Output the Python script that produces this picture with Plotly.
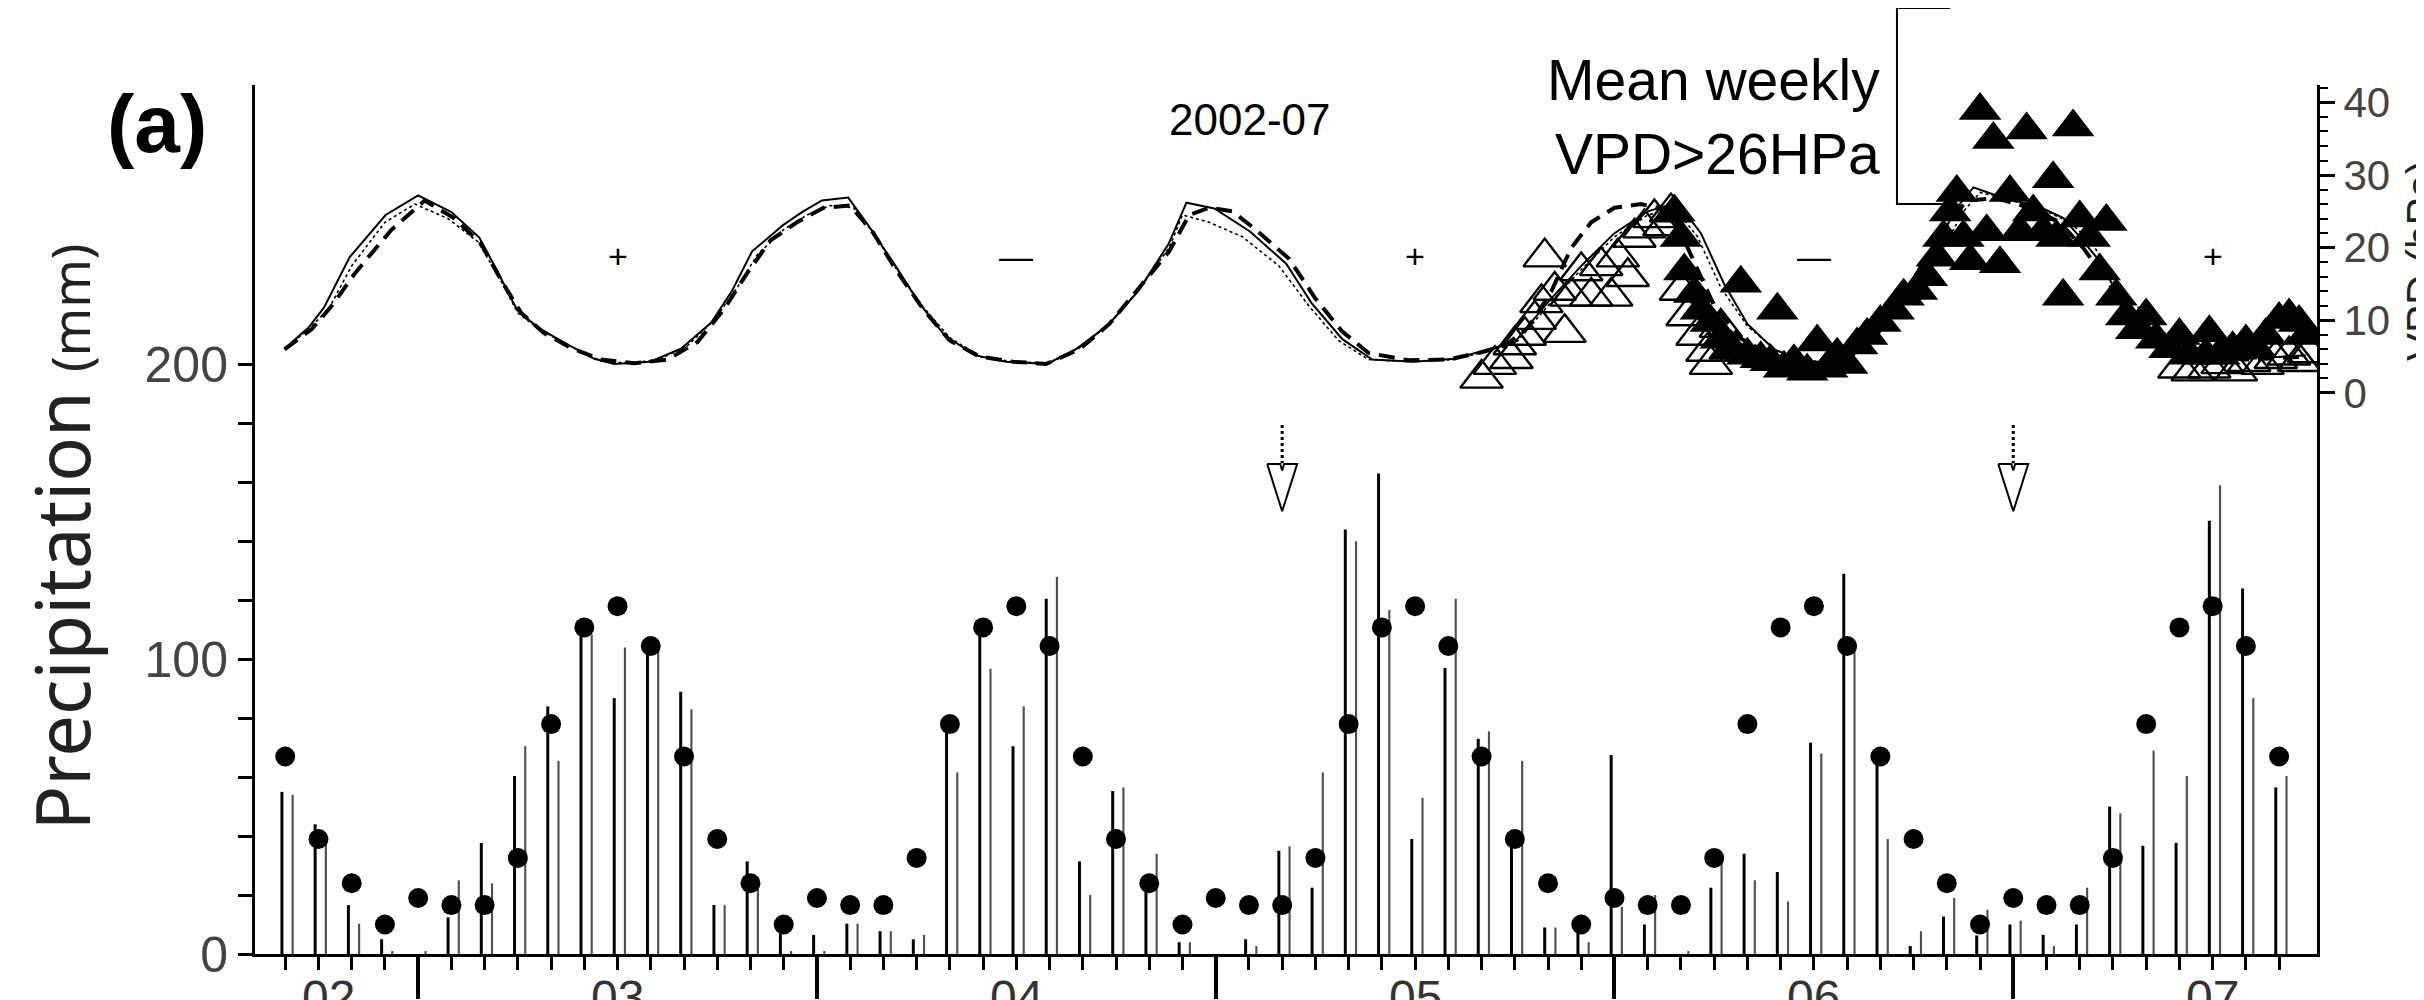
import plotly.graph_objects as go

# ---------------- data ----------------
months = list(range(8, 69))  # month index: 0 = Jan 2002

precip_a = [55, 44, 16.6, 5,
            0, 12.4, 37.7, 60.4, 84, 110.8, 86.8, 106, 89, 16.6, 31.4, 7,
            6.5, 10.3, 7.7, 5, 77.6, 110, 70.5, 120.5, 31.4, 55.3, 24, 4,
            0, 5, 35, 22.5, 144, 163, 39, 97, 73, 37, 9, 8,
            67.5, 10, 0, 22.5, 34, 27.8, 71.7, 129, 68, 2.7, 12.7, 6.3,
            10, 6.5, 10, 50, 36.7, 37.7, 147, 124, 56.5]
precip_b = [54, 38.5, 10.3, 1,
            1, 25, 24, 70.5, 65.5, 108.4, 104, 103.7, 83, 16.6, 26, 1,
            1, 10.3, 7.7, 6.5, 61.6, 96.8, 84, 128, 20, 56.5, 34, 4,
            0, 2.7, 36.5, 61.6, 140, 116.7, 53, 120.5, 75.5, 65.5, 9, 4,
            16, 20, 1, 32, 25, 17.8, 68, 103.7, 39, 7.7, 19, 15,
            11.3, 2.7, 22.5, 47.7, 69, 60.4, 159, 86.8, 60.4]
precip_mean = [67, 39, 24, 10,
               19, 16.6, 16.6, 32.6, 78, 110.8, 118, 104.5, 67, 39, 24, 10,
               19, 16.6, 16.6, 32.6, 78, 110.8, 118, 104.5, 67, 39, 24, 10,
               19, 16.6, 16.6, 32.6, 78, 110.8, 118, 104.5, 67, 39, 24, 10,
               19, 16.6, 16.6, 32.6, 78, 110.8, 118, 104.5, 67, 39, 24, 10,
               19, 16.6, 16.6, 32.6, 78, 110.8, 118, 104.5, 67]

vpd_solid_x = [7.98, 8.7, 9.16, 9.94, 11.02, 12.0, 13.0, 13.84, 14.38, 14.98, 15.61, 16.37,
               17.3, 17.9, 18.98, 19.91, 20.82, 21.45, 22.05, 22.98, 23.55, 24.15, 24.94,
               25.54, 26.32, 27.07, 27.85, 28.75, 29.68, 30.92, 31.82, 32.75, 33.68, 34.58,
               35.12, 35.96, 37.04, 38.12, 38.88, 39.81, 40.71, 41.95, 43.18, 44.11, 45.0,
               46.0, 47.0, 48.0, 49.0, 49.9, 50.6, 51.3, 52.0, 52.8, 53.8, 54.8, 55.6, 56.4,
               57.0, 57.7, 58.3, 58.8, 59.3, 60.0, 60.7, 61.5, 62.0, 62.5, 63.2, 64.2, 65.3,
               66.6, 68.1, 68.8]
vpd_solid = [6.1, 9.0, 11.7, 18.7, 24.5, 27.2, 24.9, 21.4, 16.8, 11.4, 9.0, 7.0,
             4.7, 4.0, 4.3, 6.1, 9.7, 14.1, 19.5, 23.1, 24.9, 26.5, 26.9,
             23.1, 17.8, 12.4, 7.9, 5.2, 4.3, 4.0, 6.1, 9.3, 14.1, 20.5,
             26.2, 25.4, 22.2, 17.8, 12.4, 7.4, 4.6, 4.3, 4.7, 5.9, 7.0,
             12.5, 17.5, 22.0, 25.0, 26.2, 22.0, 15.0, 9.5, 6.0, 4.2, 4.5, 6.5, 12.0,
             16.0, 20.5, 25.5, 28.3, 27.5, 26.5, 25.8, 24.1, 21.5, 18.7, 13.3, 8.7, 6.1,
             4.7, 5.0, 5.2]

vpd_dash_x = [7.98, 8.8, 9.4, 10.1, 11.2, 12.2, 13.1, 13.9, 14.5, 15.1, 15.8, 16.6,
              17.5, 18.5, 19.5, 20.4, 21.2, 21.9, 22.6, 23.4, 24.2, 25.0, 25.7,
              26.4, 27.2, 28.0, 28.9, 29.9, 30.9, 31.9, 32.8, 33.7, 34.6, 35.2,
              35.8, 36.5, 37.2, 38.2, 39.0, 39.8, 40.6, 41.8, 43.0, 44.0, 44.7,
              45.4, 46.1, 46.7, 47.3, 48.0, 48.8, 49.3, 49.8, 50.3, 51.0, 51.8, 52.8,
              54.0, 55.0, 55.8, 56.6, 57.3, 58.0, 58.6, 59.5, 60.5, 61.4, 62.1, 62.8,
              63.6, 64.6, 65.7, 67.0, 68.8]
vpd_dash = [6.0, 8.8, 12.0, 16.5, 22.5, 26.5, 24.0, 20.5, 15.5, 11.0, 8.2, 6.2,
            4.6, 4.1, 4.6, 7.0, 11.5, 16.5, 21.0, 23.5, 25.5, 25.8, 22.0,
            16.8, 11.5, 7.2, 5.0, 4.3, 4.0, 6.0, 9.5, 14.5, 19.5, 24.5,
            25.5, 25.0, 22.5, 18.5, 13.0, 8.5, 5.5, 4.5, 4.6, 5.6, 6.5,
            9.0, 14.0, 20.0, 23.5, 25.5, 26.0, 25.5, 24.0, 19.0, 12.0, 7.5, 5.0,
            4.2, 4.8, 7.5, 12.5, 18.0, 23.0, 26.5, 26.8, 25.5, 23.5, 20.0, 15.5,
            10.5, 7.0, 5.2, 4.6, 5.0]

vpd_dot_x = [7.98, 8.7, 9.3, 10.0, 11.0, 11.9, 12.9, 13.8, 14.4, 15.0, 15.7, 16.5,
             17.4, 18.2, 19.2, 20.1, 20.9, 21.6, 22.2, 23.0, 23.7, 24.4, 25.1,
             25.7, 26.4, 27.2, 28.0, 28.9, 29.9, 31.0, 31.9, 32.8, 33.7, 34.6,
             35.0, 35.8, 36.8, 37.9, 38.8, 39.7, 40.6, 41.9, 43.2, 44.2, 45.1,
             46.0, 47.0, 48.0, 49.0, 49.8, 50.5, 51.2, 52.0, 52.9, 53.9, 54.9, 55.7,
             56.5, 57.2, 57.9, 58.5, 59.0, 59.6, 60.3, 61.0, 61.7, 62.3, 62.9, 63.6,
             64.5, 65.5, 66.8, 68.2, 68.8]
vpd_dot = [6.0, 8.8, 11.5, 17.5, 23.5, 26.0, 24.0, 20.8, 16.2, 11.0, 8.6, 6.6,
           4.6, 4.1, 4.5, 6.5, 10.0, 14.5, 19.0, 22.5, 24.5, 25.8, 25.5,
           22.0, 17.0, 11.8, 7.6, 5.0, 4.3, 4.1, 6.2, 9.5, 14.3, 20.0,
           24.5, 23.5, 21.5, 17.5, 12.0, 7.2, 4.6, 4.3, 4.6, 5.8, 7.2,
           12.0, 17.0, 21.5, 24.5, 25.5, 21.5, 14.5, 9.2, 5.8, 4.2, 4.4, 6.4,
           11.8, 15.8, 20.0, 25.0, 27.6, 27.0, 26.0, 25.0, 23.5, 21.0, 17.0, 12.5,
           8.4, 6.0, 4.6, 4.9, 5.1]

tri_open_x = [44.0, 44.4, 44.9, 45.0, 45.3, 45.6, 45.8, 45.9, 46.2, 46.5, 46.7, 47.0,
              47.3, 47.6, 47.9, 48.1, 48.4, 48.6, 48.9, 49.2, 49.5, 49.7, 50.0, 50.2,
              50.5, 50.8, 50.9, 51.2, 51.5,
              65.0, 65.4, 65.9, 66.3, 66.7, 67.1, 67.5, 67.9, 68.3, 68.6, 68.9]
tri_open = [2.0, 3.9, 4.7, 6.6, 7.9, 10.1, 12.4, 18.7, 14.1, 8.3, 13.3, 16.8,
            13.3, 17.5, 13.3, 18.7, 16.0, 21.4, 22.7, 24.1, 23.0, 24.9, 14.1, 10.6,
            7.9, 5.7, 3.9, 9.0, 6.0,
            3.4, 3.0, 3.4, 4.0, 3.0, 4.3, 3.9, 4.7, 5.2, 4.3, 5.5]

tri_fill_x = [49.8, 50.0, 50.1, 50.4, 50.6, 50.9, 51.2, 51.5, 51.8, 52.0, 52.4, 52.7,
              52.9, 53.1, 53.4, 53.8, 54.1, 54.4, 54.7, 55.0, 55.3, 55.6, 56.0, 56.4,
              56.7, 57.1, 57.4, 57.7, 57.9, 58.1, 58.3, 58.5, 58.7, 59.0, 59.2, 59.4,
              59.6, 59.9, 60.2, 60.4, 60.6, 60.9, 61.2, 61.3, 61.5, 61.8, 62.0, 62.3,
              62.6, 62.8, 63.1, 63.4, 63.7, 64.0, 64.3, 64.7, 65.0, 65.3, 65.8, 65.9,
              66.2, 66.6, 67.0, 67.3, 67.6, 68.0, 68.3, 68.6, 68.8]
tri_fill = [24.9, 21.4, 16.8, 13.7, 11.4, 9.7, 7.4, 6.1, 15.1, 5.2, 4.7, 4.3,
            11.4, 3.4, 4.3, 3.0, 7.0, 3.4, 5.2, 3.9, 6.6, 7.9, 9.7, 11.4,
            13.3, 14.1, 16.0, 18.7, 21.4, 24.9, 27.6, 21.4, 18.2, 38.9, 22.2, 34.9,
            17.8, 27.6, 22.2, 36.2, 24.9, 22.2, 29.5, 21.4, 13.3, 36.6, 24.1, 21.4,
            16.8, 23.6, 13.3, 10.6, 8.7, 10.6, 7.4, 6.1, 7.9, 5.2, 5.2, 8.3,
            5.2, 6.1, 7.0, 6.1, 7.9, 10.1, 10.6, 9.7, 7.9]

year_ticks = [12, 24, 36, 48, 60]
year_labels = ['02', '03', '04', '05', '06', '07']
year_label_x = [9.3, 18, 30, 42, 54, 66]
phase_signs = ['+', '—', '+', '—', '+']
phase_x = [18, 30, 42, 54, 66]
phase_level = 18.8
arrow_x = [38, 60]
vpd_threshold = 26

X_RANGE = [7.09, 69.14]
Y_RANGE = [0, 294.8]
Y2_RANGE = [-77.25, 42.4]

W, H = 2424, 1000
ML, MR, MT, MB = 247, 115, 77, 34
PW, PH = W - ML - MR, H - MT - MB

def px_x(p):
    return (p - ML) / PW

def px_y(p):
    return (H - MB - p) / PH

def vpd_paper(v):
    return (v - Y2_RANGE[0]) / (Y2_RANGE[1] - Y2_RANGE[0])

NARROW = "Liberation Sans Narrow, Arial Narrow, Liberation Sans, Arial, sans-serif"
SANS = "Liberation Sans, Arial, sans-serif"

fig = go.Figure()

# precipitation bars (two series)
fig.add_bar(x=months, y=precip_a, width=0.09, offset=-0.145,
            marker=dict(color='black', line_width=0), yaxis='y')
fig.add_bar(x=months, y=precip_b, width=0.065, offset=0.19,
            marker=dict(color='#505050', line_width=0), yaxis='y')
# long-term monthly mean
fig.add_scatter(x=months, y=precip_mean, mode='markers', yaxis='y',
                marker=dict(symbol='circle', size=20, color='black'))

# arrows (dotted shaft + open narrow head)
for ax_ in arrow_x:
    fig.add_scatter(x=[ax_, ax_], y=[179.5, 166.5], mode='lines', yaxis='y',
                    line=dict(color='black', width=3, dash='dot'))
    fig.add_scatter(x=[ax_ - 0.45, ax_, ax_ + 0.45, ax_ + 0.06, ax_, ax_ - 0.06, ax_ - 0.45],
                    y=[166.2, 150.2, 166.2, 166.2, 164.0, 166.2, 166.2],
                    mode='lines', yaxis='y', line=dict(color='black', width=2))

# VPD lines
fig.add_scatter(x=vpd_dot_x, y=vpd_dot, mode='lines', yaxis='y2',
                line=dict(color='black', width=1.6, dash='dot'))
fig.add_scatter(x=vpd_dash_x, y=vpd_dash, mode='lines', yaxis='y2',
                line=dict(color='black', width=4, dash='16px,9px'))
fig.add_scatter(x=vpd_solid_x, y=vpd_solid, mode='lines', yaxis='y2',
                line=dict(color='black', width=2))
# weekly VPD triangles
fig.add_scatter(x=tri_open_x, y=tri_open, mode='markers', yaxis='y2',
                marker=dict(symbol='triangle-up-open', size=37, color='black',
                            line=dict(width=2.4, color='black')))
fig.add_scatter(x=tri_fill_x, y=tri_fill, mode='markers', yaxis='y2',
                marker=dict(symbol='triangle-up', size=37, color='black',
                            line=dict(width=0)))

ann = []
for lab, xv in zip(year_labels, year_label_x):
    ann.append(dict(x=xv, xref='x', y=px_y(981), yref='paper', text=lab,
                    showarrow=False, yanchor='top', xanchor='center',
                    font=dict(family=NARROW, size=48, color='#333')))
for s, xv in zip(phase_signs, phase_x):
    ann.append(dict(x=xv, xref='x', y=phase_level, yref='y2', text=s,
                    showarrow=False, xanchor='center', yanchor='middle',
                    font=dict(family=SANS, size=34, color='black')))
ann.append(dict(x=px_x(149), y=px_y(116), xref='paper', yref='paper', text='<b>(a)</b>',
                xanchor='center', yanchor='middle',
                showarrow=False, font=dict(family=NARROW, size=82, color='black')))
ann.append(dict(x=px_x(1241), y=px_y(112), xref='paper', yref='paper', text='2002-07',
                xanchor='center', yanchor='middle',
                showarrow=False, font=dict(family=NARROW, size=44, color='black')))
ann.append(dict(x=px_x(1874), y=px_y(110), xref='paper', yref='paper',
                text='Mean weekly<br>VPD&gt;26HPa', align='right',
                xanchor='right', yanchor='middle', showarrow=False,
                font=dict(family=NARROW, size=57, color='black')))
ann.append(dict(x=px_x(54), y=px_y(540), xref='paper', yref='paper',
                text='Precipitation <span style="font-size:52px">(mm)</span>',
                textangle=-90, showarrow=False, xanchor='center', yanchor='middle',
                font=dict(family='Noto Sans, sans-serif', size=74, color='#222')))
ann.append(dict(x=px_x(2414), y=px_y(257), xref='paper', yref='paper',
                text='VPD (hPa)', textangle=-90, xanchor='center', yanchor='middle',
                showarrow=False, font=dict(family=SANS, size=42, color='#222')))

shapes = [dict(type='path', xref='x', yref='paper',
               path=f'M 58.1,{vpd_paper(53.0)} L 56.5,{vpd_paper(53.0)} '
                    f'L 56.5,{vpd_paper(vpd_threshold)} L 58.1,{vpd_paper(vpd_threshold)}',
               line=dict(color='black', width=2))]

fig.update_layout(
    width=W, height=H, margin=dict(l=ML, r=MR, t=MT, b=MB),
    plot_bgcolor='white', paper_bgcolor='white', showlegend=False,
    barmode='overlay', annotations=ann, shapes=shapes,
    xaxis=dict(range=X_RANGE, showline=True, linecolor='black', linewidth=3,
               ticks='outside', tickmode='array', tickvals=year_ticks, ticklen=42,
               tickwidth=4, tickcolor='black', showticklabels=False,
               showgrid=False, zeroline=False,
               minor=dict(tickmode='array', tickvals=months, ticks='outside', ticklen=13,
                          tickwidth=2.5, tickcolor='black', showgrid=False)),
    yaxis=dict(range=Y_RANGE, showline=True, linecolor='black', linewidth=3,
               ticks='outside', tickmode='array', tickvals=[0, 100, 200],
               ticklen=14, tickwidth=2.5, tickcolor='black',
               tickfont=dict(family=NARROW, size=50, color='#444'),
               showgrid=False, zeroline=False,
               minor=dict(tickmode='array', tickvals=[20, 40, 60, 80, 120, 140, 160, 180],
                          ticks='outside', ticklen=14, tickwidth=2.5, tickcolor='black',
                          showgrid=False)),
    yaxis2=dict(range=Y2_RANGE, overlaying='y', side='right', showline=True,
                linecolor='black', linewidth=3, ticks='outside', tickmode='array',
                tickvals=[0, 10, 20, 30, 40], ticklen=15, tickwidth=3, tickcolor='black',
                tickfont=dict(family=NARROW, size=42, color='#444'),
                showgrid=False, zeroline=False,
                minor=dict(tickmode='array',
                           tickvals=[2, 4, 6, 8, 12, 14, 16, 18, 22, 24, 26, 28, 32, 34,
                                     36, 38, 42],
                           ticks='outside', ticklen=8, tickwidth=2, tickcolor='black',
                           showgrid=False)),
)

fig.write_html("out.html")
